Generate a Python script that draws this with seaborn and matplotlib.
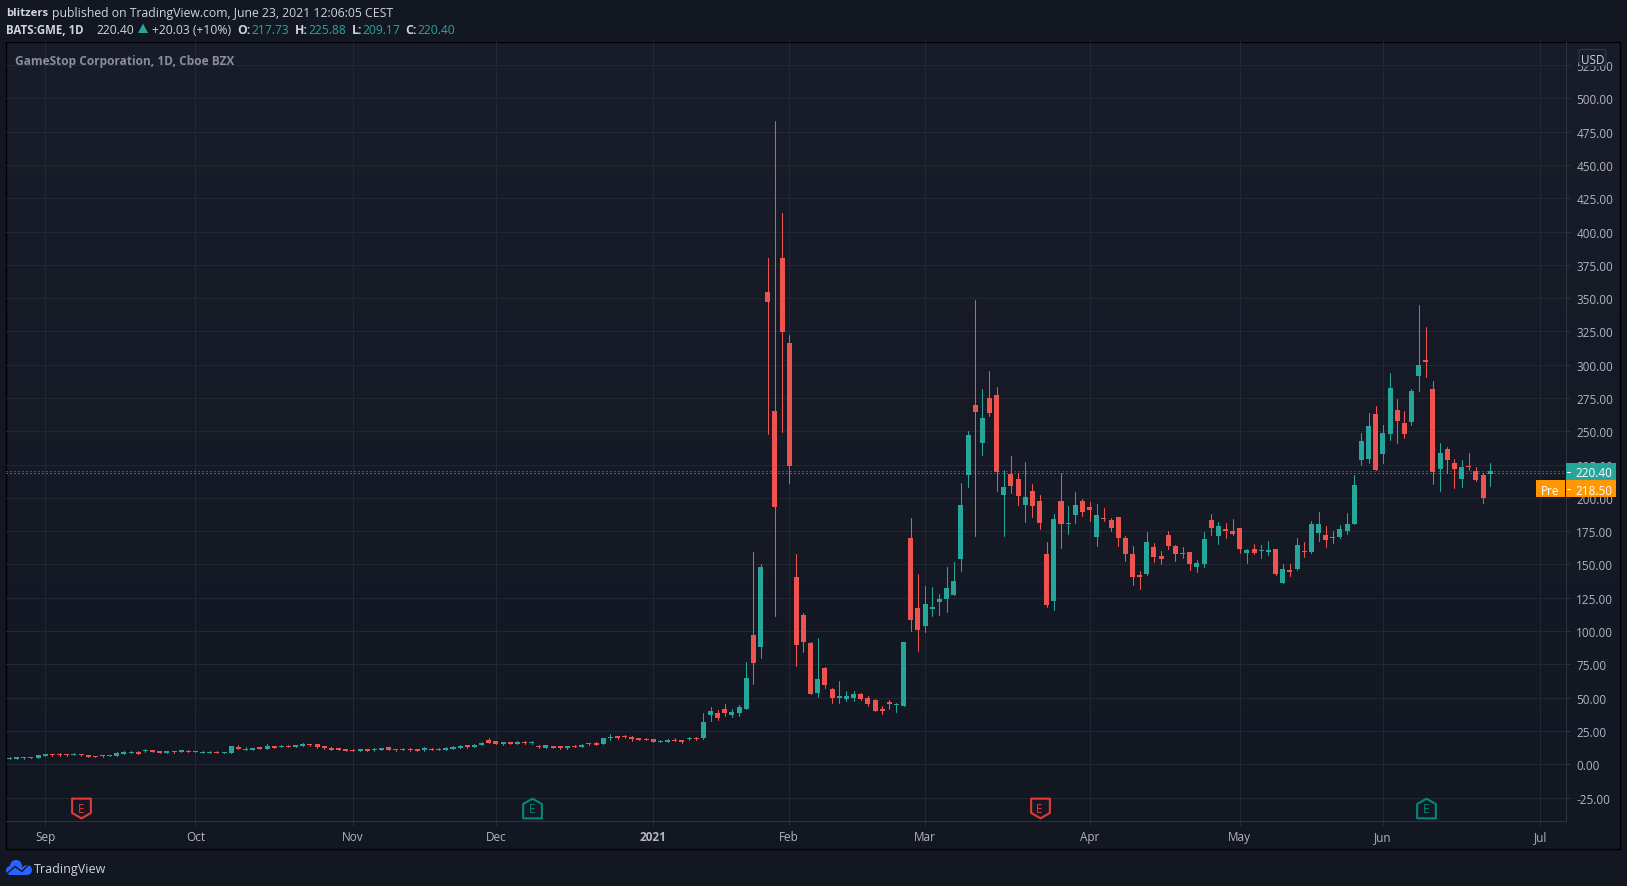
import matplotlib
matplotlib.use("Agg")
import matplotlib.pyplot as plt
import seaborn as sns
import numpy as np
import pandas as pd
from matplotlib.path import Path
from matplotlib.patches import Rectangle, Circle, FancyBboxPatch, Polygon

# GME daily candles (first bar is five sessions before Sep 1)
first_bar = -5
opens = [
    4.1, 4.0, 4.8, 4.8, 4.5, 6.2, 7.7, 7.7, 7.7, 7.0,
    7.7, 7.0, 6.2, 6.2, 6.2, 6.2, 7.7, 8.5, 9.2, 10,
    10.7, 10, 8.5, 10, 9.2, 10, 10, 8.5, 8.5, 9.2,
    8.5, 8.5, 13, 10.7, 10.7, 13, 11.5, 13.7, 13, 13.7,
    13, 13.7, 15.2, 15.2, 13.7, 12.2, 12.2, 11.5, 10.7, 10,
    11.5, 10.7, 10.7, 13, 11.5, 10.7, 11.5, 11.5, 10.7, 11.5,
    11.5, 10.7, 11.5, 12.2, 14.5, 13, 14.5, 18.2, 17.5, 15.2,
    16.7, 15.2, 16.7, 16, 13.7, 12.2, 13.7, 13.7, 12.2, 13.7,
    13, 16, 16, 15.2, 19.7, 21.2, 21.2, 20.5, 19.7, 19,
    19, 16.7, 16.7, 18.2, 18.2, 19, 19.7, 19.7, 37, 38.4,
    41.4, 36.9, 38.4, 41.4, 97, 88, 354.6, 265, 380.1, 316.3,
    140.6, 112, 91, 53.5, 72.2, 56.5, 49.7, 49, 49.7, 52.7,
    49.7, 48.2, 41.4, 46.7, 44.4, 43.7, 169.8, 117.3, 103.8, 116.5,
    121.8, 124, 127, 154, 217.4, 269.7, 241.2, 274.9, 277.2, 202.1,
    217.9, 214.1, 194.6, 205.1, 197.6, 157.8, 122.5, 197.6, 180.3, 187.1,
    197.6, 193.1, 170.6, 184.8, 183.3, 185.6, 169.8, 157.8, 142, 142.8,
    163, 156.3, 172.1, 163.8, 157.8, 159.3, 148, 150.3, 183.3, 171.3,
    176.6, 175.1, 177.3, 158.6, 161.6, 160, 159.3, 161.6, 136, 145.8,
    146.5, 160, 159.3, 173.6, 172.1, 170.6, 170.6, 175.1, 180.3, 228.4,
    229.1, 263, 232.9, 247.9, 265.9, 256.2, 256.9, 291.5, 303.5, 281.7,
    221.6, 236.7, 226.1, 214.1, 223.9, 220.1, 217.1, 217.73,
]
highs = [
    5.4, 5.5, 5.2, 5.5, 7.0, 7.7, 7.7, 8.5, 7.7, 8.5,
    7.7, 7.0, 6.2, 7.0, 7.0, 9.2, 10.2, 10, 10, 11.5,
    10.7, 10, 10, 10, 10.7, 10.7, 10, 10, 10, 10,
    9.2, 13.7, 14.5, 13, 12.2, 13, 15.2, 13.7, 14.5, 14.5,
    14.5, 16, 15.2, 15.2, 13.7, 13, 12.2, 11.5, 11.5, 11.5,
    11.5, 12.2, 12.2, 13, 11.5, 12.2, 12.2, 11.5, 13, 12.2,
    12.2, 13, 13.7, 14.5, 14.5, 15.2, 16.7, 19.7, 17.5, 16.7,
    16.7, 17.5, 17.5, 17.5, 14.5, 14.5, 13.7, 13.7, 13.7, 14.5,
    15.2, 16, 16.7, 19.7, 22.7, 21.2, 22, 21.2, 19.7, 19.7,
    19, 18.2, 19, 19.7, 18.2, 20.5, 20.5, 38.5, 42.7, 40.7,
    45.2, 41.4, 44.4, 76.7, 159.3, 150.3, 380.1, 483, 413.9, 322.3,
    157.8, 113.5, 91.8, 94.8, 73, 57.2, 62.5, 55, 55, 53.5,
    51.2, 49, 43.7, 48.2, 46, 91.8, 184.9, 142.8, 133.8, 133,
    127.8, 148, 151.8, 211.1, 250.2, 348.5, 281.7, 295.2, 283.2, 220.9,
    231.4, 218.6, 226.9, 210.4, 202.1, 166.8, 187.8, 218.6, 193.8, 204.4,
    199.1, 196.8, 195.3, 192.3, 184.8, 185.6, 171.3, 163.8, 145, 174.3,
    166, 160, 175.1, 164.6, 163, 159.3, 153.3, 174.3, 187.8, 181.8,
    181.1, 184.1, 177.3, 161.6, 165.3, 164.6, 167.6, 161.6, 150.3, 150.3,
    169.8, 166.8, 182.6, 189.3, 178.8, 175.1, 179.6, 188.6, 217.1, 248.7,
    263.7, 268.9, 254.7, 293.7, 274.2, 265.2, 281.7, 344.8, 328.3, 287.7,
    241.2, 238.2, 229.1, 228.4, 233.6, 223.1, 218.6, 225.88,
]
lows = [
    4.0, 4.0, 4.0, 4.8, 4.5, 6.2, 6.2, 6.2, 6.2, 7.0,
    6.2, 5.5, 5.5, 5.5, 6.2, 6.2, 7.7, 8.5, 7.7, 9.2,
    9.2, 8.5, 8.5, 8.5, 9.2, 9.2, 9.2, 8.5, 8.5, 8.5,
    8.5, 8.5, 11.5, 10.7, 10.7, 11.5, 11.5, 12.2, 13, 13,
    13, 13.7, 13.7, 12.2, 11.5, 10.7, 10.7, 10, 10, 10,
    10, 10, 10.7, 10.7, 10, 10.7, 10, 10, 10, 10.7,
    10.7, 10.7, 11.5, 12.2, 12.2, 13, 14.5, 16, 15.2, 14.5,
    15.2, 15.2, 15.2, 15.2, 12.2, 12.2, 12.2, 11.5, 11.5, 13,
    13, 14.5, 14.5, 15.2, 18.2, 19, 19.7, 17.5, 18.2, 18.2,
    16.7, 16.7, 16.7, 17.5, 16, 18.2, 18.2, 19, 32.4, 33.2,
    36.2, 35.4, 36.2, 41.4, 60.2, 79.7, 248, 111.3, 249.5, 211.2,
    73.7, 84.2, 52.7, 50.5, 57.2, 46, 46, 47.5, 47.5, 48.2,
    43.7, 40, 37.7, 41.4, 39.2, 43.7, 100, 85, 99.3, 111.3,
    112, 114.3, 127, 145, 208.1, 171.3, 232.1, 261.4, 205.1, 171.3,
    203.6, 194.6, 181.8, 185.6, 176.6, 118, 115.7, 162.3, 172.8, 181.1,
    186.3, 182.6, 163.8, 182.6, 175.1, 163.8, 152.5, 134.5, 131.5, 142,
    151.8, 150.3, 161.6, 152.5, 154.8, 145.8, 144.3, 148, 172.1, 165.3,
    169.8, 172.1, 158.6, 151, 157.8, 154.8, 157, 142, 136, 141.3,
    145.8, 155.6, 158.6, 167.6, 163.1, 166.1, 169.8, 172.8, 180.3, 224.6,
    226.1, 220.9, 226.1, 243.4, 241.2, 244.9, 254.7, 280.2, 290.7, 210.4,
    205.1, 218.6, 207.4, 208.1, 220.9, 212.6, 196.1, 209.17,
]
closes = [
    4.7, 5.5, 5.2, 5.4, 7.0, 7.7, 7.0, 7.0, 7.0, 7.7,
    7.0, 5.5, 5.5, 7.0, 7.0, 8.5, 9.2, 9.2, 7.7, 10.7,
    9.2, 8.5, 10, 9.2, 10.7, 9.2, 9.2, 9.2, 9.2, 8.5,
    9.2, 13.7, 11.5, 11.5, 12.2, 11.5, 13.7, 12.2, 13.7, 13,
    14.5, 15.2, 14.5, 13, 12.2, 10.7, 10.7, 10, 10, 11.5,
    10, 11.5, 12.2, 10.7, 10.7, 11.5, 10.7, 10, 12.2, 10.7,
    10.7, 12.2, 13, 13.7, 13, 14.5, 16, 16, 15.2, 16.7,
    15.2, 16.7, 16, 16.7, 13, 14.5, 12.2, 12.2, 13.7, 13,
    14.5, 15.2, 14.5, 19.7, 20.5, 19.7, 20.5, 19, 18.2, 18.2,
    16.7, 17.5, 18.2, 17.5, 16.7, 19.7, 19, 31.7, 40, 34.7,
    38.4, 39.2, 42.9, 64.7, 76, 148, 347, 193.1, 324.5, 224,
    89.5, 91.8, 52.7, 64, 59.5, 49.7, 51.2, 51.2, 52.7, 49,
    45.2, 40, 40, 45.2, 45.2, 91.8, 108.3, 100.8, 120.3, 118,
    124, 132.3, 137.5, 194.6, 247.2, 264.4, 260, 263.7, 219.4, 208.1,
    208.9, 201.3, 200.6, 193.8, 181.1, 119.5, 184.1, 180.3, 181.1, 194.6,
    189.3, 190.8, 187.1, 184.1, 177.3, 169.8, 157.8, 140.5, 140.5, 166.8,
    155.5, 154, 163.8, 157.8, 158.6, 150.3, 151, 169, 177.3, 178.8,
    175.1, 172.6, 161.6, 160.8, 158.6, 160.8, 160.8, 142.8, 146.5, 144.3,
    164.6, 159.3, 180.3, 180.3, 168.3, 169.8, 176.6, 180.3, 209.6, 242.7,
    253.9, 220.9, 248.7, 282.5, 257.7, 247.9, 280.2, 299.7, 302, 219.4,
    233.6, 228.4, 221.6, 223.1, 223.1, 213.4, 199.9, 220.4,
]

month_bars = [0, 21, 43, 63, 85, 104, 123, 146, 167, 187, 209]
month_labels = ["Sep", "Oct", "Nov", "Dec", "2021", "Feb", "Mar", "Apr", "May", "Jun", "Jul"]
price_ticks = list(range(-25, 526, 25))
last_price = 220.40
pre_price = 218.50
earnings_bars = [5, 68, 139, 193]
earnings_beat = [False, True, False, True]

TEAL = "#26a69a"
RED = "#ef5350"
ORANGE = "#ff9800"
GRID = "#232733"
AXIS = "#2e323e"
LABEL = "#b2b5be"
PAGE = "#131722"

sns.set_theme(style="dark")
plt.rcParams["font.family"] = ["Open Sans", "DejaVu Sans"]
plt.rcParams["text.color"] = LABEL

W, H = 1627, 887
fig = plt.figure(figsize=(W / 100, H / 100), dpi=100, facecolor=PAGE)

# fond en pixels : degrade + cadre noir
bg = fig.add_axes([0, 0, 1, 1], zorder=0)
top_rgb = np.array([25, 29, 41]) / 255
bot_rgb = np.array([19, 23, 34]) / 255
ramp = np.linspace(0, 1, 256)[:, None, None]
bg.imshow(top_rgb + (bot_rgb - top_rgb) * ramp, extent=(6.3, 1620, 850, 42.7), aspect="auto", zorder=0)
bg.add_patch(Rectangle((6.3, 42.7), 1613.7, 807.3, fill=False, ec="#000000", lw=1.0, zorder=2))
bg.set_xlim(0, W)
bg.set_ylim(H, 0)
bg.axis("off")

# chart
ax = fig.add_axes([6.3 / W, (H - 822.3) / H, (1566 - 6.3) / W, (822.3 - 42.7) / H], zorder=1)
ax.patch.set_alpha(0)

bars = np.arange(first_bar, first_bar + len(opens))
df = pd.DataFrame({"bar": bars, "open": opens, "high": highs, "low": lows, "close": closes})
df["bottom"] = df[["open", "close"]].min(axis=1)
df["height"] = (df["close"] - df["open"]).abs()
df["up"] = df["close"] >= df["open"]

for is_up, color in [(True, TEAL), (False, RED)]:
    sub = df[df["up"] == is_up]
    wicks = sub.melt(id_vars="bar", value_vars=["low", "high"], value_name="price")
    sns.lineplot(data=wicks, x="bar", y="price", units="bar", estimator=None, sort=False,
                 color=color, linewidth=0.75, ax=ax, zorder=3)
    sns.barplot(data=sub, x="bar", y="height", bottom=sub["bottom"].values, native_scale=True,
                color=color, saturation=1, width=0.7, errorbar=None, linewidth=0, ax=ax, zorder=4)

ax.axhline(last_price, color=TEAL, lw=0.72, ls=(0, (1, 3)), zorder=5)
ax.axhline(pre_price, color=ORANGE, lw=0.72, ls=(0, (1, 3)), zorder=5)

# marqueurs earnings
shield_down = Path(np.array([(-0.95, 1), (0.95, 1), (0.95, -0.45), (0, -1), (-0.95, -0.45), (-0.95, 1)]), closed=True)
shield_up = Path(np.array([(-0.95, -1), (0.95, -1), (0.95, 0.45), (0, 1), (-0.95, 0.45), (-0.95, -1)]), closed=True)
for bar, beat in zip(earnings_bars, earnings_beat):
    color = "#00897b" if beat else "#e53935"
    ax.plot([bar], [-33], marker=shield_up if beat else shield_down, ms=14.2, mfc="#141824", mec=color,
            mew=1.5, ls="none", zorder=6, clip_on=False)
    ax.text(bar, -33, "E", color=color, fontsize=8.5, ha="center", va="center", zorder=7)

ax.set_xlim(-5.45, 212.6)
ax.set_ylim(-42.8, 542.5)
ax.set_xlabel("")
ax.set_ylabel("")
ax.set_xticks(month_bars)
ax.set_xticklabels(month_labels)
ax.set_yticks(price_ticks)
ax.set_yticklabels([f"{p:.2f}" for p in price_ticks])
ax.yaxis.tick_right()
ax.grid(True, color=GRID, lw=0.75)
ax.set_axisbelow(True)
ax.tick_params(axis="both", length=3, width=0.75, color=AXIS, labelcolor=LABEL, labelsize=8.5,
               bottom=True, right=True, left=False)
ax.tick_params(axis="x", pad=3)
ax.tick_params(axis="y", pad=4.4)
for side in ["top", "left"]:
    ax.spines[side].set_visible(False)
for side in ["right", "bottom"]:
    ax.spines[side].set_color(AXIS)
    ax.spines[side].set_linewidth(0.75)
for lab in ax.get_xticklabels():
    if lab.get_text() == "2021":
        lab.set_fontweight("bold")

# habillage en pixels au-dessus du graphique
top = fig.add_axes([0, 0, 1, 1], zorder=2)
top.patch.set_alpha(0)
top.set_xlim(0, W)
top.set_ylim(H, 0)
top.axis("off")


def label(x, y, s, color="#d1d4dc", size=8.7, weight="normal", ha="left"):
    top.text(x, y, s, color=color, fontsize=size, fontweight=weight, ha=ha, va="center_baseline")


# en-tete
label(6.3, 12.5, "blitzers", weight="bold", size=8.2)
label(52.3, 12.5, "published on TradingView.com, June 23, 2021 12:06:05 CEST", size=8.8)
label(6.3, 29.5, "BATS:GME, 1D", weight="bold", size=8.3)
label(96.7, 29.5, "220.40")
top.add_patch(Polygon([(138, 34), (148, 34), (143, 24.5)], fc=TEAL, ec="none"))
label(152, 29.5, "+20.03 (+10%)")
for x_key, key, x_val, val in [(237, "O:", 251.7, "217.73"), (294.7, "H:", 308.7, "225.88"),
                               (351.7, "L:", 362.3, "209.17"), (405.3, "C:", 417.7, "220.40")]:
    label(x_key, 29.5, key, weight="bold")
    label(x_val, 29.5, val, color=TEAL)
label(15.3, 60.3, "GameStop Corporation, 1D, Cboe BZX", color="#8b8e99", weight="bold", size=8.6)

# USD + etiquettes de prix
top.add_patch(FancyBboxPatch((1581, 52.5), 23, 12.5, boxstyle="round,pad=2,rounding_size=3",
                             fc="#1a1e2b", ec="#363a45", lw=0.75))
label(1592.8, 58.5, "USD", ha="center", size=8.5)
top.add_patch(Rectangle((1566.3, 464.3), 49.4, 16.6, fc=TEAL, ec="none"))
top.add_patch(Rectangle((1565.8, 481.3), 49.9, 16.7, fc=ORANGE, ec="none"))
top.add_patch(Rectangle((1536, 481.3), 28.7, 16.7, fc=ORANGE, ec="none"))
top.plot([1566.6, 1570.5], [472.5, 472.5], color="#ffffff", lw=0.75)
top.plot([1566.6, 1570.5], [489.7, 489.7], color="#ffffff", lw=0.75)
label(1575, 472.5, f"{last_price:.2f}", color="#ffffff", size=8.5)
label(1575, 489.7, f"{pre_price:.2f}", color="#ffffff", size=8.5)
label(1550, 489.7, "Pre", color="#ffffff", ha="center", size=8.5)

# logo TradingView
for cx, cy, r in [(10.5, 871.5, 4.5), (16, 867, 6), (27, 871, 5)]:
    top.add_patch(Circle((cx, cy), r, fc="#2962ff", ec="none"))
top.add_patch(Rectangle((10, 868), 17.5, 8, fc="#2962ff", ec="none"))
top.plot([7.5, 15, 22, 29], [874, 867.5, 872.5, 865], color=PAGE, lw=1.0)
label(34, 868.5, "TradingView", size=9.0)

fig.savefig("out.png", dpi=100, facecolor=PAGE)
